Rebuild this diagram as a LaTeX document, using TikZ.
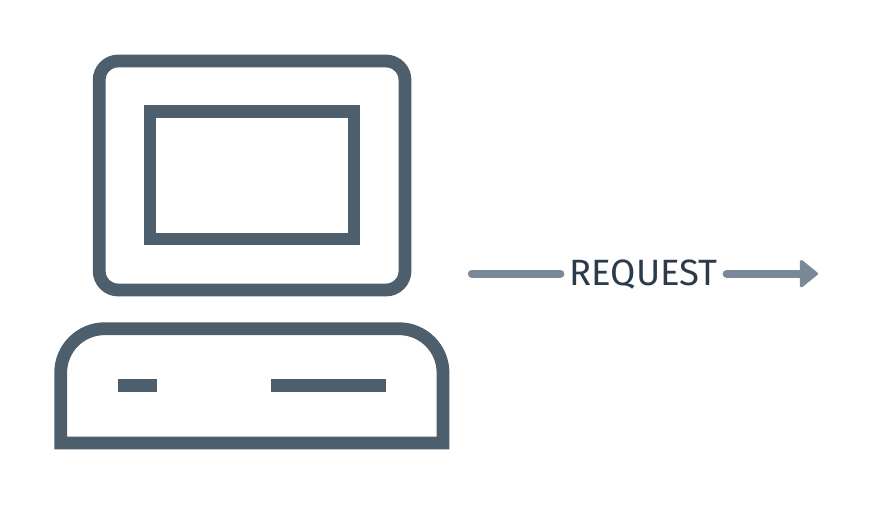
\documentclass[tikz,border=0pt]{standalone}
\usepackage{fontspec}
\setmainfont{Fira Sans}
\usetikzlibrary{arrows.meta}
\definecolor{slate}{HTML}{4D5E6D}
\definecolor{arrowgrey}{HTML}{7A8997}
\definecolor{ink}{HTML}{2A3B4B}
\tikzset{
  outline/.style={draw=slate,line width=12.8pt,fill=none},
  bar/.style={fill=slate,draw=none},
  link/.style={draw=arrowgrey,line width=8.4pt,line cap=round},
  label/.style={font=\fontsize{36.6}{36.6}\selectfont,text=ink,inner xsep=9pt,inner ysep=0pt,anchor=center}
}
\begin{document}
\begin{tikzpicture}[x=1pt,y=-1pt]
\useasboundingbox (0,0) rectangle (872,504);
% monitor
\draw[outline,rounded corners=19pt] (99.2,61) rectangle (405,290);
\draw[outline,miter limit=10] (150,111.7) rectangle (354,239);
% base
\draw[outline,line join=miter] (60.7,443) -- (60.7,372.7)
  .. controls (60.7,348.4) and (80.4,328.7) .. (104.7,328.7) -- (399,328.7)
  .. controls (423.3,328.7) and (443,348.4) .. (443,372.7) -- (443,443) -- cycle;
\fill[bar] (118,379) rectangle (156.5,392);
\fill[bar] (271,379) rectangle (386,392);
% request arrow
\coordinate (start) at (472,273.7);
\coordinate (finish) at (818,273.7);
\node[label] (req) at (643.5,274.2) {REQUEST};
\draw[link] (start) -- (start -| req.west);
\draw[link,-{Triangle[round,length=19pt,width=30pt,line width=3pt]}] (finish -| req.east) -- (finish);
\end{tikzpicture}
\end{document}
